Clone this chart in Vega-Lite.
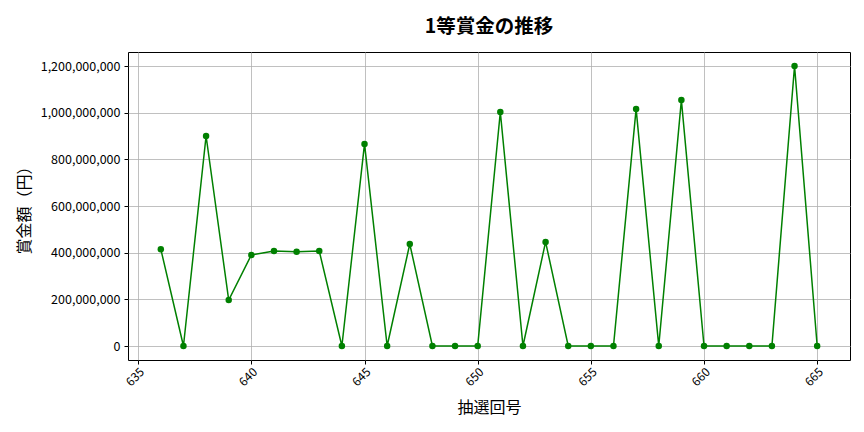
{
  "$schema": "https://vega.github.io/schema/vega-lite/v6.json",
  "autosize": "none",
  "width": 722,
  "height": 308,
  "padding": {"left": 128, "top": 52, "right": 14, "bottom": 72},
  "background": "white",
  "title": {
    "text": "1等賞金の推移",
    "fontSize": 19.5,
    "font": "Noto Sans CJK JP",
    "fontWeight": "bold",
    "anchor": "middle",
    "offset": 15
  },
  "config": {
    "font": "Noto Sans CJK JP",
    "view": {"stroke": "black", "strokeWidth": 1}
  },
  "data": {
    "values": [
      {"round": 636, "prize": 415000000},
      {"round": 637, "prize": 0},
      {"round": 638, "prize": 900000000},
      {"round": 639, "prize": 197000000},
      {"round": 640, "prize": 390000000},
      {"round": 641, "prize": 407000000},
      {"round": 642, "prize": 404000000},
      {"round": 643, "prize": 407000000},
      {"round": 644, "prize": 0},
      {"round": 645, "prize": 866000000},
      {"round": 646, "prize": 0},
      {"round": 647, "prize": 437000000},
      {"round": 648, "prize": 0},
      {"round": 649, "prize": 0},
      {"round": 650, "prize": 0},
      {"round": 651, "prize": 1003000000},
      {"round": 652, "prize": 0},
      {"round": 653, "prize": 446000000},
      {"round": 654, "prize": 0},
      {"round": 655, "prize": 0},
      {"round": 656, "prize": 0},
      {"round": 657, "prize": 1016000000},
      {"round": 658, "prize": 0},
      {"round": 659, "prize": 1054000000},
      {"round": 660, "prize": 0},
      {"round": 661, "prize": 0},
      {"round": 662, "prize": 0},
      {"round": 663, "prize": 0},
      {"round": 664, "prize": 1200000000},
      {"round": 665, "prize": 0}
    ]
  },
  "encoding": {
    "x": {
      "field": "round",
      "type": "quantitative",
      "scale": {"domain": [634.55, 666.45], "nice": false, "zero": false},
      "axis": {
        "title": "抽選回号",
        "titleFontSize": 16,
        "titleFontWeight": "normal",
        "titleColor": "black",
        "titlePadding": 12,
        "values": [635, 640, 645, 650, 655, 660, 665],
        "labelAngle": -45,
        "labelAlign": "right",
        "labelBaseline": "top",
        "labelFontSize": 12,
        "labelColor": "black",
        "tickColor": "black",
        "tickSize": 4,
        "domain": false,
        "gridColor": "#b0b0b0",
        "gridWidth": 0.8
      }
    },
    "y": {
      "field": "prize",
      "type": "quantitative",
      "scale": {"domain": [-60000000, 1260000000], "nice": false, "zero": false},
      "axis": {
        "title": "賞金額（円）",
        "titleFontSize": 16,
        "titleFontWeight": "normal",
        "titleColor": "black",
        "titlePadding": 8,
        "values": [0, 200000000, 400000000, 600000000, 800000000, 1000000000, 1200000000],
        "format": ",d",
        "labelFontSize": 12.5,
        "labelColor": "black",
        "labelPadding": 4,
        "tickColor": "black",
        "tickSize": 4,
        "domain": false,
        "gridColor": "#b0b0b0",
        "gridWidth": 0.8
      }
    }
  },
  "layer": [
    {"mark": {"type": "line", "color": "green", "strokeWidth": 1.5}},
    {"mark": {"type": "circle", "color": "green", "opacity": 1, "size": 42}}
  ]
}
